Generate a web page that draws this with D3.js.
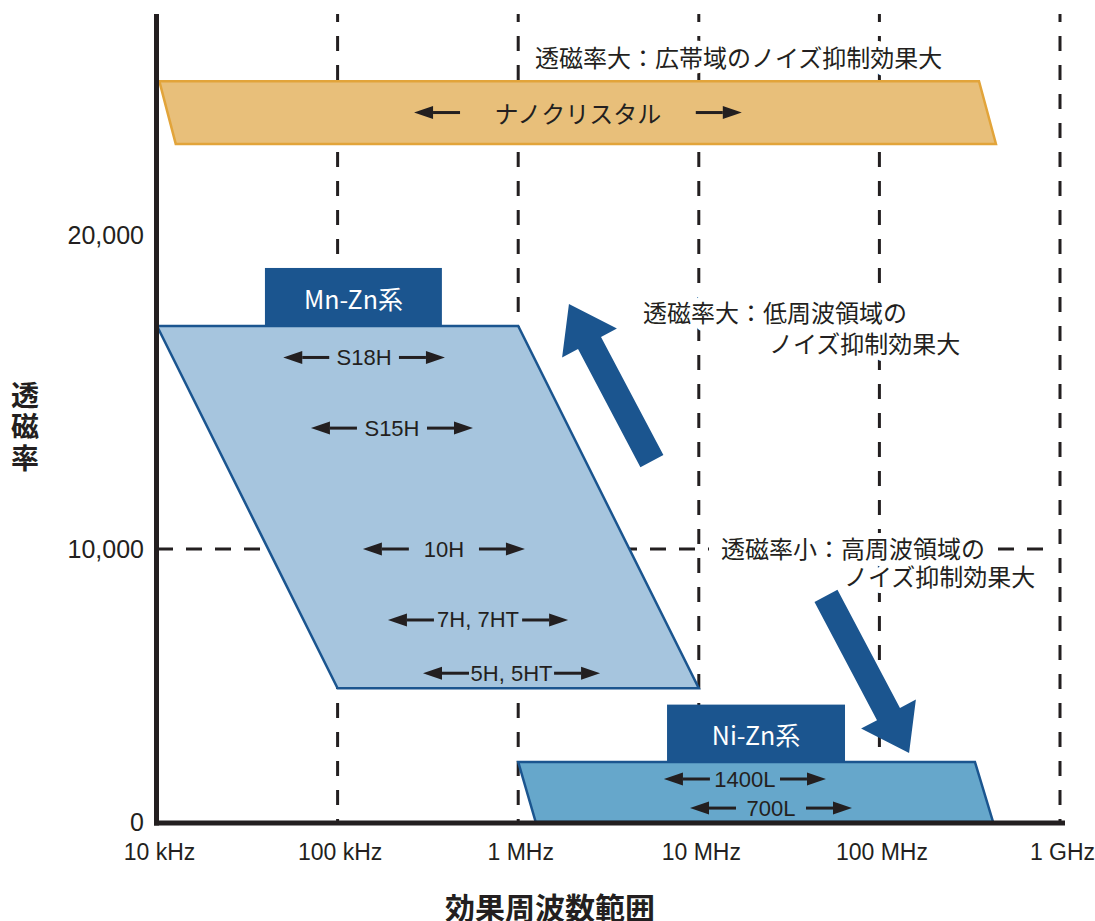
<!DOCTYPE html>
<html>
<head>
<meta charset="utf-8">
<script src="https://cdn.jsdelivr.net/npm/d3@7"></script>
<style>
body { margin: 0; background: #fff; }
text { font-family: "Liberation Sans", Arial, sans-serif; fill: #231f20; }
.jp { font-family: "Noto Sans CJK JP", "Noto Sans CJK SC", sans-serif; }
</style>
</head>
<body>
<svg id="chart" width="1095" height="921"></svg>
<script>
// axis ticks
const freqTicks = [1e4, 1e5, 1e6, 1e7, 1e8, 1e9];
const freqLabels = ["10 kHz", "100 kHz", "1 MHz", "10 MHz", "100 MHz", "1 GHz"];
const permTicks = [0, 10000, 20000];

// material bands: [frequency, permeability] corners
const nanoBand = [[1.03e4, 24900], [3.56e8, 24900], [4.42e8, 22900], [1.27e4, 22900]];
const mnZnBand = [[1e4, 17100], [1e6, 17100], [1e7, 4900], [1e5, 4900]];
const niZnBand = [[1e6, 2200], [3.38e8, 2200], [4.26e8, 0], [1.25e6, 0]];

// family label boxes
const familyNames = ["Mn-Zn系", "Ni-Zn系"];
const familyFreq = [[3.96e4, 3.78e5], [6.67e6, 6.45e7]];
const familyPerm = [[17100, 18950], [2200, 4300]];

// grades with their frequency range
const gradeNames = ["ナノクリスタル", "S18H", "S15H", "10H", "7H, 7HT", "5H, 5HT", "1400L", "700L"];
const gradeFrom = [2.65e5, 5.0e4, 7.12e4, 1.38e5, 1.90e5, 2.97e5, 6.41e6, 8.94e6];
const gradeTo = [1.73e7, 3.93e5, 5.62e5, 1.09e6, 1.89e6, 2.84e6, 5.06e7, 7.05e7];
const gradePerm = [23900, 16100, 13850, 10000, 7400, 5450, 1575, 510];

// trend arrows [tail, tip]
const trendArrows = [
    [[5.5e6, 12800], [1.91e6, 17800]],
    [[5.06e7, 8280], [1.46e8, 2530]]
];

const svg = d3.select("#chart");
const ink = "#231f20";
const navy = "#1b558f";

const x = d3.scaleLog().domain([1e4, 1e9]).range([157, 1060]);
const y = d3.scaleLinear().domain([0, 10000, 20000]).range([822, 549, 235]);
const yTop = 14;

// dashed grid
svg.append("g")
    .selectAll("line")
    .data(freqTicks.slice(1))
    .enter()
    .append("line")
    .attr("x1", d => x(d)).attr("x2", d => x(d))
    .attr("y1", yTop).attr("y2", y(0))
    .attr("stroke", ink).attr("stroke-width", 3)
    .attr("stroke-dasharray", "15,14").attr("stroke-dashoffset", 7);

svg.append("line")
    .attr("x1", x(1e4)).attr("x2", 1045)
    .attr("y1", y(10000)).attr("y2", y(10000))
    .attr("stroke", ink).attr("stroke-width", 3)
    .attr("stroke-dasharray", "16,13");

// bands
const line = d3.line().x(d => x(d[0])).y(d => y(d[1]));
function band(pts, fill, stroke) {
    svg.append("path")
        .attr("d", line(pts) + "Z")
        .attr("fill", fill)
        .attr("stroke", stroke)
        .attr("stroke-width", 2.5)
        .attr("stroke-linejoin", "miter");
}
band(nanoBand, "#e8bf7a", "#e2a43a");
band(mnZnBand, "#a6c5de", navy);
band(niZnBand, "#66a7cb", navy);

// family boxes
familyNames.forEach((name, i) => {
    const x0 = x(familyFreq[i][0]), x1 = x(familyFreq[i][1]);
    const y0 = y(familyPerm[i][1]), y1 = y(familyPerm[i][0]);
    svg.append("rect")
        .attr("x", x0).attr("y", y0)
        .attr("width", x1 - x0).attr("height", y1 - y0)
        .attr("fill", navy);
    svg.append("text")
        .attr("class", "jp")
        .attr("x", (x0 + x1) / 2).attr("y", (y0 + y1) / 2 + 1)
        .attr("text-anchor", "middle").attr("dominant-baseline", "central")
        .style("font-size", "25px").style("fill", "#fff")
        .text(name);
});

// small double arrows
function smallArrow(tip, tail, yy) {
    const dir = Math.sign(tip - tail);
    const head = 19;
    svg.append("line")
        .attr("x1", tail).attr("x2", tip - dir * head)
        .attr("y1", yy).attr("y2", yy)
        .attr("stroke", ink).attr("stroke-width", 3);
    svg.append("path")
        .attr("d", `M${tip},${yy}L${tip - dir * head},${yy - 6.5}L${tip - dir * head},${yy + 6.5}Z`)
        .attr("fill", ink);
}
const arrowLen = 46;
gradeNames.forEach((name, i) => {
    const a = x(gradeFrom[i]), b = x(gradeTo[i]), yy = y(gradePerm[i]);
    smallArrow(a, a + arrowLen, yy);
    smallArrow(b, b - arrowLen, yy);
    svg.append("text")
        .attr("class", i == 0 ? "jp" : null)
        .attr("x", (a + b) / 2).attr("y", yy)
        .attr("text-anchor", "middle").attr("dominant-baseline", "central")
        .style("font-size", i == 0 ? "24px" : "22px")
        .text(name);
});

// big trend arrows
trendArrows.forEach(([tail, tip]) => {
    const t0 = [x(tail[0]), y(tail[1])], t1 = [x(tip[0]), y(tip[1])];
    const dx = t1[0] - t0[0], dy = t1[1] - t0[1];
    const len = Math.hypot(dx, dy);
    const u = [dx / len, dy / len], n = [-u[1], u[0]];
    const w = 13, hw = 31, hl = 44;
    const b = [t1[0] - u[0] * hl, t1[1] - u[1] * hl];
    const p = (o, k) => [o[0] + n[0] * k, o[1] + n[1] * k];
    const pts = [p(t0, w), p(b, w), p(b, hw), t1, p(b, -hw), p(b, -w), p(t0, -w)];
    svg.append("path")
        .attr("d", "M" + pts.map(q => q.join(",")).join("L") + "Z")
        .attr("fill", navy);
});

// notes: lines, x, y, indent of 2nd line, line gap, white box behind 1st line
const notes = [
    [["透磁率大：広帯域のノイズ抑制効果大"], 535, 56, 0, 0, false],
    [["透磁率大：低周波領域の", "ノイズ抑制効果大"], 643, 311, 126, 31, false],
    [["透磁率小：高周波領域の", "ノイズ抑制効果大"], 721, 547, 123, 28, true]
];
notes.forEach(([lines, nx, ny, indent, gap, boxed]) => {
    const g = svg.append("g");
    const t = g.append("text")
        .attr("class", "jp")
        .attr("x", nx).attr("y", ny)
        .attr("dominant-baseline", "central")
        .style("font-size", "24px")
        .style("stroke", "#fff").style("stroke-width", 12)
        .style("stroke-linejoin", "round")
        .style("paint-order", "stroke");
    lines.forEach((s, k) => {
        t.append("tspan")
            .attr("x", nx + (k ? indent : 0))
            .attr("dy", k ? gap : 0)
            .text(s);
    });
    if (boxed) {
        const w0 = t.select("tspan").node().getComputedTextLength();
        g.insert("rect", "text")
            .attr("x", nx - 12).attr("y", ny - 14)
            .attr("width", w0 + 20).attr("height", 30)
            .attr("fill", "#fff");
    }
});

// axes
const yAxis = svg.append("g")
    .attr("transform", `translate(${x(1e4)},0)`)
    .call(d3.axisLeft(y).tickValues(permTicks).tickFormat(d3.format(",")).tickSize(0).tickPadding(13));
yAxis.select(".domain").remove();
yAxis.selectAll("text").style("font-size", "25px").attr("font-family", null).attr("dy", "0.35em");

const xAxis = svg.append("g")
    .attr("transform", `translate(0,${y(0)})`)
    .call(d3.axisBottom(x).tickValues(freqTicks).tickFormat((d, i) => freqLabels[i]).tickSize(0));
xAxis.select(".domain").remove();
xAxis.selectAll("text").style("font-size", "23px").attr("font-family", null)
    .attr("x", 2).attr("y", 30).attr("dy", "0.35em");

svg.append("line")
    .attr("x1", 156.5).attr("x2", 156.5).attr("y1", yTop).attr("y2", 825.5)
    .attr("stroke", ink).attr("stroke-width", 5);
svg.append("line")
    .attr("x1", 154).attr("x2", 1065).attr("y1", 823).attr("y2", 823)
    .attr("stroke", ink).attr("stroke-width", 5);

// axis titles
svg.append("text")
    .attr("class", "jp")
    .attr("x", 25).attr("y", 381)
    .style("writing-mode", "vertical-rl")
    .style("font-size", "28px").style("font-weight", "bold")
    .style("letter-spacing", "3.5px")
    .text("透磁率");
svg.append("text")
    .attr("class", "jp")
    .attr("x", 550).attr("y", 906)
    .attr("text-anchor", "middle").attr("dominant-baseline", "central")
    .style("font-size", "30px").style("font-weight", "bold")
    .text("効果周波数範囲");
</script>
</body>
</html>
